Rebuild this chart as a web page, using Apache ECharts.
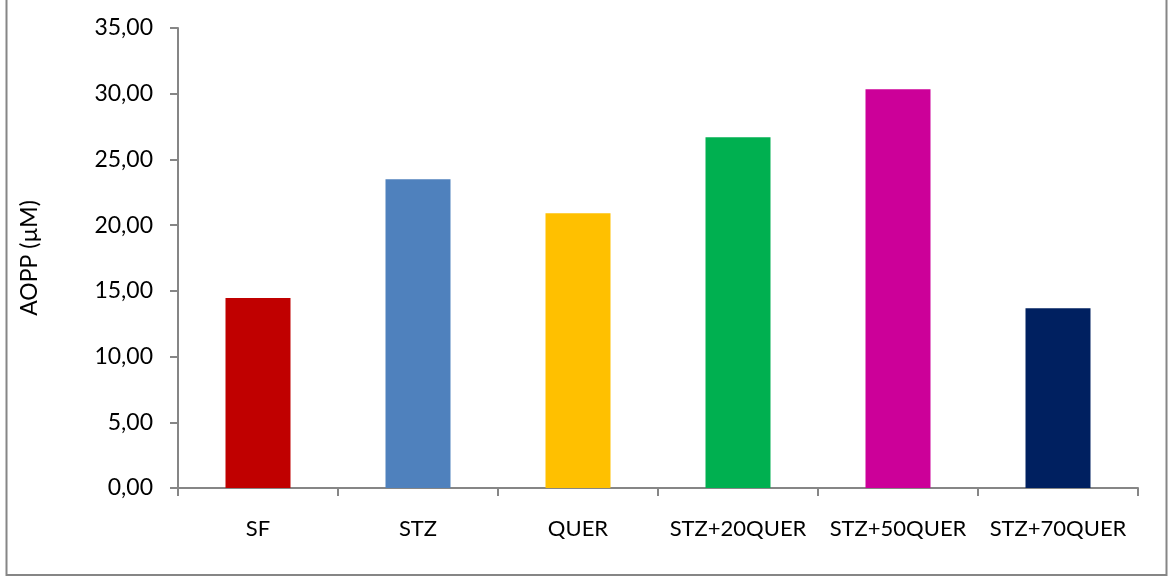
<!DOCTYPE html>
<html>
<head>
<meta charset="utf-8">
<script src="https://cdn.jsdelivr.net/npm/echarts@6/dist/echarts.min.js"></script>
<style>
  html, body { margin: 0; padding: 0; background: #ffffff; }
  #chart { width: 1173px; height: 578px; }
</style>
</head>
<body>
<div id="chart"></div>
<script>
// Groups and their mean AOPP level (µM)
const categories = ['SF', 'STZ', 'QUER', 'STZ+20QUER', 'STZ+50QUER', 'STZ+70QUER'];
const aoppValues = [14.45, 23.49, 20.90, 26.69, 30.34, 13.68];
const barColors = ['#C00000', '#4F81BD', '#FFC000', '#00B050', '#CC0099', '#002060'];

const axisGray = '#868686';
const fontFamily = 'Lato, "Open Sans", sans-serif';

const chart = echarts.init(document.getElementById('chart'), null, { renderer: 'canvas' });

chart.setOption({
  animation: false,
  backgroundColor: '#ffffff',
  graphic: [{
    type: 'rect',
    shape: { x: 6.5, y: -2, width: 1160, height: 577 },
    style: { fill: 'none', stroke: axisGray, lineWidth: 2 },
    silent: true
  }],
  grid: { left: 178, right: 35, top: 28, bottom: 90 },
  xAxis: {
    type: 'category',
    data: categories,
    axisLine: { lineStyle: { color: axisGray, width: 2 } },
    axisTick: { show: true, interval: 0, alignWithLabel: false, length: 8, lineStyle: { color: axisGray, width: 2 } },
    axisLabel: { color: '#000000', fontSize: 22, fontFamily: fontFamily, margin: 30, interval: 0 },
    splitLine: { show: false }
  },
  yAxis: {
    type: 'value',
    min: 0,
    max: 35,
    interval: 5,
    name: 'AOPP (µM)',
    nameLocation: 'middle',
    nameGap: 137,
    nameRotate: 90,
    nameTextStyle: { color: '#000000', fontSize: 23, fontFamily: fontFamily },
    axisLine: { show: true, lineStyle: { color: axisGray, width: 2 } },
    axisTick: { show: true, length: 8, lineStyle: { color: axisGray, width: 2 } },
    axisLabel: {
      color: '#000000', fontSize: 23, fontFamily: fontFamily, margin: 25,
      formatter: v => v.toFixed(2).replace('.', ',')
    },
    splitLine: { show: false }
  },
  series: [{
    type: 'bar',
    barWidth: 65,
    data: aoppValues.map((v, i) => ({ value: v, itemStyle: { color: barColors[i] } }))
  }]
});
</script>
</body>
</html>
